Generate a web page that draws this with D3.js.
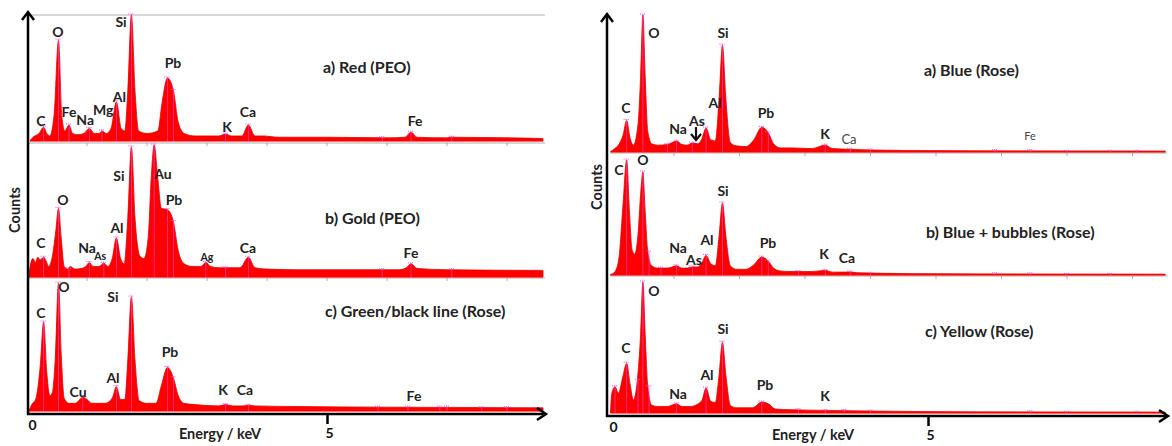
<!DOCTYPE html>
<html><head><meta charset="utf-8">
<script src="https://cdn.jsdelivr.net/npm/d3@7"></script>
<style>body{margin:0;background:#fff}svg{display:block;font-family:Lato,'Open Sans',sans-serif}</style>
</head><body><svg id="c" width="1172" height="446"></svg>
<script>
// ---------- DATA (energy keV, relative counts 0-100) ----------
const spectrumLeftA = [[0.05,0],[0.1,3],[0.2,6],[0.277,11],[0.33,6],[0.38,4],[0.45,20],[0.525,80],[0.58,20],[0.63,8],[0.70,12.7],[0.76,6],[0.85,5],[0.95,6],[1.04,10],[1.12,6],[1.2,6],[1.25,8],[1.32,6],[1.40,10],[1.49,31],[1.57,10],[1.63,8],[1.68,40],[1.74,100],[1.80,40],[1.86,8],[2.0,6],[2.18,8],[2.25,30],[2.34,50],[2.44,40],[2.52,15],[2.62,6],[2.8,4],[3.0,4],[3.2,4],[3.31,5.5],[3.4,4],[3.58,4],[3.69,12.7],[3.8,4],[3.95,4],[4.05,3.5],[4.2,3],[5,3],[6.0,2.5],[6.3,3],[6.40,7],[6.5,3],[7.0,2.5],[7.05,3],[8.6,2]];
const spectrumLeftB = [[0.03,0],[0.06,10],[0.1,14],[0.14,11],[0.18,15],[0.22,13],[0.277,15],[0.32,12],[0.36,8],[0.42,15],[0.48,35],[0.525,52],[0.57,30],[0.62,8],[0.68,6],[0.72,8],[0.8,6],[0.9,6.5],[0.98,8],[1.04,11],[1.1,8],[1.2,8],[1.28,10.5],[1.35,8],[1.42,14],[1.49,29.5],[1.56,14],[1.62,10],[1.68,45],[1.74,98.5],[1.80,45],[1.88,16],[1.95,14],[2.02,30],[2.07,75],[2.12,100],[2.18,75],[2.24,52],[2.34,51],[2.44,42],[2.52,20],[2.62,10],[2.75,8],[2.9,8],[2.98,11],[3.06,8],[3.2,7],[3.4,7],[3.55,7],[3.69,15],[3.8,7],[4.0,6],[4.5,5.5],[5.5,5.5],[6.2,5.5],[6.32,7],[6.40,10],[6.5,6.5],[7.0,5.5],[8.6,5]];
const spectrumLeftC = [[0.03,0],[0.08,5],[0.15,10],[0.22,35],[0.277,69.5],[0.33,30],[0.38,12],[0.42,14],[0.47,40],[0.525,100],[0.57,45],[0.62,10],[0.7,6],[0.8,6],[0.88,9],[0.93,11],[1.0,9],[1.08,6],[1.2,6],[1.3,6],[1.42,10],[1.49,19],[1.56,9],[1.63,9],[1.68,40],[1.74,89],[1.80,40],[1.87,8],[2.0,6],[2.15,6],[2.24,20],[2.34,34],[2.44,26],[2.52,12],[2.62,6],[2.8,5],[3.2,4],[3.31,5],[3.42,4],[3.6,4],[3.69,4.5],[3.8,4],[4.5,3.5],[6,3],[8.6,2.5]];
const spectrumRightA = [[0.03,0],[0.08,2],[0.15,5],[0.22,12],[0.277,23],[0.33,10],[0.38,5],[0.45,20],[0.49,55],[0.525,100],[0.56,55],[0.6,15],[0.66,6],[0.75,5],[0.9,5.5],[1.04,8],[1.12,5.5],[1.2,5],[1.28,6.5],[1.36,6],[1.42,9],[1.49,17.5],[1.56,9],[1.63,8],[1.69,40],[1.74,78],[1.79,40],[1.86,7],[1.95,4.5],[2.1,4],[2.22,9],[2.34,18],[2.44,14],[2.52,6],[2.62,3],[2.8,3],[3.1,2.5],[3.31,5],[3.42,2.5],[3.69,2],[4,1.5],[5,1],[8.5,0.5]];
const spectrumRightB = [[0.03,0],[0.1,3],[0.16,15],[0.22,60],[0.277,100],[0.32,55],[0.36,22],[0.4,18],[0.45,35],[0.49,70],[0.525,89.6],[0.56,55],[0.6,20],[0.66,8],[0.75,6],[0.9,6],[1.04,8],[1.12,6],[1.2,6],[1.28,7],[1.36,7],[1.42,10],[1.49,17],[1.56,10],[1.63,8],[1.69,35],[1.74,62.6],[1.79,35],[1.86,8],[1.95,5],[2.1,5],[2.22,9],[2.34,15.6],[2.44,12],[2.52,6],[2.62,3.5],[2.8,3],[3.1,3],[3.31,4],[3.42,2.5],[3.69,2.6],[3.8,2],[4.2,1.5],[5,1],[8.5,0.5]];
const spectrumRightC = [[0.03,0],[0.05,15],[0.1,20],[0.15,15],[0.22,28],[0.277,38],[0.33,22],[0.38,10],[0.44,25],[0.49,60],[0.525,100],[0.56,60],[0.6,20],[0.66,6],[0.75,5],[0.9,5],[1.04,7],[1.12,5],[1.25,5],[1.42,9],[1.49,19],[1.56,9],[1.63,8],[1.69,30],[1.74,54],[1.79,30],[1.86,6],[1.95,4],[2.2,4],[2.34,8.4],[2.44,7],[2.55,3],[2.8,2.5],[3.31,2],[4,1.5],[5,1],[8.5,0.5]];

// peak-ID marker energies (software markers)
const markersLeftA = [0.277,0.525,0.70,1.04,1.25,1.49,1.74,2.34,2.44,3.31,3.69,5.92,6.40,7.08];
const markersLeftB = [0.277,0.525,0.70,1.04,1.28,1.49,1.74,2.12,2.34,2.44,2.98,3.31,3.69,5.92,6.40,7.08];
const markersLeftC = [0.277,0.525,0.93,1.49,1.74,2.34,2.44,3.31,3.69,5.85,6.35,6.88,7.0,7.58,8.0];
const markersRightA = [0.277,0.525,0.9,1.04,1.28,1.49,1.74,2.34,2.44,3.31,3.69,4.0,5.9,6.44,7.0,7.66,8.07];
const markersRightB = [0.277,0.525,0.62,0.8,1.04,1.28,1.49,1.74,2.34,2.44,2.9,3.31,3.69,4.0,5.9,6.44,7.0,7.66];
const markersRightC = [0.1,0.277,0.45,0.525,0.62,1.04,1.49,1.74,2.34,2.9,3.31,3.6,4.0,6.44,7.0,8.07];

// element labels: [text, energy, count level]
const labelsLeftA = [["C",0.233,15.9],["O",0.517,86.5],["Fe",0.7,23],["Na",0.97,16.7],["Mg",1.27,24.6],["Al",1.54,34.9],["Si",1.567,94.4],["Pb",2.433,61.9],["K",3.333,11.1],["Ca",3.683,23],["Fe",6.467,15.9]];
const labelsLeftB = [["C",0.233,25.8],["O",0.6,58.3],["Na",1.0,22],["Al",1.5,37.1],["Si",1.533,76.5],["Au",2.267,78],["Pb",2.45,58.3],["Ca",3.683,22],["Fe",6.4,18.2]];
const smallLabelsLeftB = [["As",1.22,15.9],["Ag",3.0,15.2]];
const labelsLeftC = [["C",0.233,76.6],["O",0.617,96.9],["Cu",0.85,14.8],["Al",1.433,25.8],["Si",1.433,89.1],["Pb",2.383,46.1],["K",3.267,16.4],["Ca",3.633,16.4],["Fe",6.45,11.7]];
const labelsRightA = [["C",0.267,32.1],["O",0.695,86.9],["Na",1.061,16.8],["As",1.351,22.6],["Al",1.626,35.8],["Si",1.748,86.9],["Pb",2.405,28.5],["K",3.305,13.1]];
const thinLabelsRightA = [["Ca",3.672,9.5,13],["Fe",6.435,11.7,11]];
const labelsRightB = [["C",0.16,91.3],["O",0.527,100],["Na",1.061,23.5],["As",1.305,13],["Al",1.504,30.4],["Si",1.748,73],["Pb",2.435,27.8],["K",3.29,18.3],["Ca",3.641,14.8]];
const labelsRightC = [["C",0.267,49.6],["O",0.695,93.1],["Na",1.061,14.5],["Al",1.504,29],["Si",1.748,64.1],["Pb",2.389,21.4],["K",3.305,13]];

// titles: [text, energy, count level]
const titleLeftA = ["a) Red (PEO)",4.933,58.7];
const titleLeftB = ["b) Gold (PEO)",4.967,44.7];
const titleLeftC = ["c) Green/black line (Rose)",4.967,78.1];
const titleRightA = ["a) Blue (Rose)",4.817,59.9];
const titleRightB = ["b) Blue + bubbles (Rose)",4.847,37.4];
const titleRightC = ["c) Yellow (Rose)",4.832,62.6];

const axisTicks = [0,5];
const axisTitleX = "Energy / keV";
const axisTitleY = "Counts";

// ---------- DRAW ----------
const svg = d3.select("#c");
const RED = "#ff0000";
const MAG = "#ff44dd";

const xL = d3.scaleLinear().domain([0,8.6]).range([27,543]);
const xR = d3.scaleLinear().domain([0,8.5]).range([608.5,1165.25]);
const xRAxis = d3.scaleLinear().domain([0,5]).range([608,928]);

const panels = [
  {x:xL, data:spectrumLeftA, markers:markersLeftA, labels:labelsLeftA, title:titleLeftA, y:[141,15], frame:143},
  {x:xL, data:spectrumLeftB, markers:markersLeftB, labels:labelsLeftB, small:smallLabelsLeftB, title:titleLeftB, y:[277,145], frame:278},
  {x:xL, data:spectrumLeftC, markers:markersLeftC, labels:labelsLeftC, title:titleLeftC, y:[411,283]},
  {x:xR, data:spectrumRightA, markers:markersRightA, labels:labelsRightA, thin:thinLabelsRightA, title:titleRightA, y:[152,15], frame:153, arrow:[1.336,18.2,8.8]},
  {x:xR, data:spectrumRightB, markers:markersRightB, labels:labelsRightB, title:titleRightB, y:[275,160], frame:276},
  {x:xR, data:spectrumRightC, markers:markersRightC, labels:labelsRightC, title:titleRightC, y:[413,282]}
];

svg.append("line").attr("x1",30).attr("x2",545).attr("y1",15).attr("y2",15).attr("stroke","#d8d8d8").attr("stroke-width",2);

panels.forEach(p=>{
  const x = p.x;
  const y = d3.scaleLinear().domain([0,100]).range(p.y);
  const g = svg.append("g");
  const [emin,emax] = x.domain();
  if (p.frame){
    g.append("line").attr("x1",x(0)+2).attr("x2",x(emax)+2).attr("y1",p.frame).attr("y2",p.frame)
      .attr("stroke","#c8c8c8").attr("stroke-width",1.5);
    g.selectAll(".ft").data(d3.range(1,Math.floor(emax)+1)).join("line")
      .attr("x1",d=>x(d)).attr("x2",d=>x(d)).attr("y1",p.frame).attr("y2",p.frame+3)
      .attr("stroke","#999").attr("stroke-width",0.8);
  }
  const area = d3.area().x(d=>x(d[0])).y0(p.y[0]).y1(d=>y(d[1])).curve(d3.curveMonotoneX);
  g.append("path").datum(p.data).attr("d",area).attr("fill",RED).attr("stroke","#e60000").attr("stroke-width",0.8);
  g.append("line").attr("x1",x(p.data[0][0])).attr("x2",x(p.data[p.data.length-1][0])).attr("y1",p.y[0]-0.5).attr("y2",p.y[0]-0.5)
    .attr("stroke",RED).attr("stroke-width",1.5);
  const bis = d3.bisector(d=>d[0]).center;
  p.markers.forEach(e=>{
    const v = p.data[bis(p.data,e)][1];
    const top = y(v)-1;
    g.append("line").attr("x1",x(e)).attr("x2",x(e)).attr("y1",top).attr("y2",p.y[0])
      .attr("stroke",MAG).attr("stroke-width",0.8).attr("opacity",0.8);
    g.append("line").attr("x1",x(e)-3).attr("x2",x(e)+3).attr("y1",top).attr("y2",top)
      .attr("stroke",MAG).attr("stroke-width",1).attr("stroke-dasharray","1,1");
  });
  g.selectAll(".lb").data(p.labels).join("text")
    .attr("x",d=>x(d[1])).attr("y",d=>y(d[2])).attr("dy","0.35em").attr("text-anchor","middle")
    .attr("font-size",14).attr("font-weight",700).attr("fill","#222").text(d=>d[0]);
  if (p.small) g.selectAll(".sl").data(p.small).join("text")
    .attr("x",d=>x(d[1])).attr("y",d=>y(d[2])).attr("dy","0.35em").attr("text-anchor","middle")
    .attr("font-size",10.5).attr("font-weight",700).attr("fill","#222").text(d=>d[0]);
  if (p.thin) g.selectAll(".tl").data(p.thin).join("text")
    .attr("x",d=>x(d[1])).attr("y",d=>y(d[2])).attr("dy","0.35em").attr("text-anchor","middle")
    .attr("font-size",d=>d[3]).attr("font-weight",400).attr("fill","#444").text(d=>d[0]);
  if (p.arrow){
    const ax = x(p.arrow[0]), y1 = y(p.arrow[1]), y2 = y(p.arrow[2]);
    g.append("line").attr("x1",ax).attr("x2",ax).attr("y1",y1).attr("y2",y2).attr("stroke","#111").attr("stroke-width",2.2);
    g.append("path").attr("d",`M${ax-5},${y2-6}L${ax},${y2}L${ax+5},${y2-6}`).attr("fill","none").attr("stroke","#111").attr("stroke-width",2.2);
  }
  g.append("text").attr("x",x(p.title[1])).attr("y",y(p.title[2])).attr("dy","0.35em")
    .attr("font-size",16).attr("font-weight",700).attr("fill","#222").text(p.title[0]);
});

function drawAxes(axisScale, yTop, yAxisX, axisY, xEnd, countsPos, titlePos){
  const g = svg.append("g");
  g.append("line").attr("x1",yAxisX).attr("x2",yAxisX).attr("y1",yTop+1).attr("y2",axisY+1).attr("stroke","#000").attr("stroke-width",2.5);
  g.append("path").attr("d",`M${yAxisX-6},${yTop+8}L${yAxisX},${yTop}L${yAxisX+6},${yTop+8}`).attr("fill","none").attr("stroke","#000").attr("stroke-width",2.5);
  g.append("line").attr("x1",yAxisX-1).attr("x2",xEnd-1).attr("y1",axisY).attr("y2",axisY).attr("stroke","#000").attr("stroke-width",2.5);
  g.append("path").attr("d",`M${xEnd-9},${axisY-6}L${xEnd},${axisY}L${xEnd-9},${axisY+6}`).attr("fill","none").attr("stroke","#000").attr("stroke-width",2.5);
  const ax = d3.axisBottom(axisScale).tickValues(axisTicks).tickFormat(d3.format("d")).tickSize(10).tickSizeOuter(0).tickPadding(3);
  const ag = g.append("g").attr("transform",`translate(0,${axisY})`).call(ax);
  ag.select(".domain").remove();
  ag.selectAll(".tick line").attr("stroke","#000").attr("stroke-width",2.5).attr("display",d=>d===0?"none":null);
  ag.selectAll(".tick text").attr("font-size",14).attr("font-weight",700).attr("fill","#111")
    .attr("font-family","Lato,'Open Sans',sans-serif")
    .attr("dx",d=>d===0?5:2).attr("dy",d=>d===0?"0.2em":"0.75em");
  g.append("text").attr("transform",`translate(${countsPos[0]},${countsPos[1]}) rotate(-90)`)
    .attr("text-anchor","middle").attr("dy","0.35em").attr("font-size",14.5).attr("font-weight",700).attr("fill","#222").text(axisTitleY);
  g.append("text").attr("x",titlePos[0]).attr("y",titlePos[1]).attr("dy","0.35em").attr("text-anchor","middle")
    .attr("font-size",14.5).attr("font-weight",700).attr("fill","#222").text(axisTitleX);
}
drawAxes(xL, 12, 28, 414, 546, [15,210], [220,434]);
drawAxes(xRAxis, 14, 607, 416, 1168, [597,187], [813,435]);
</script></body></html>
